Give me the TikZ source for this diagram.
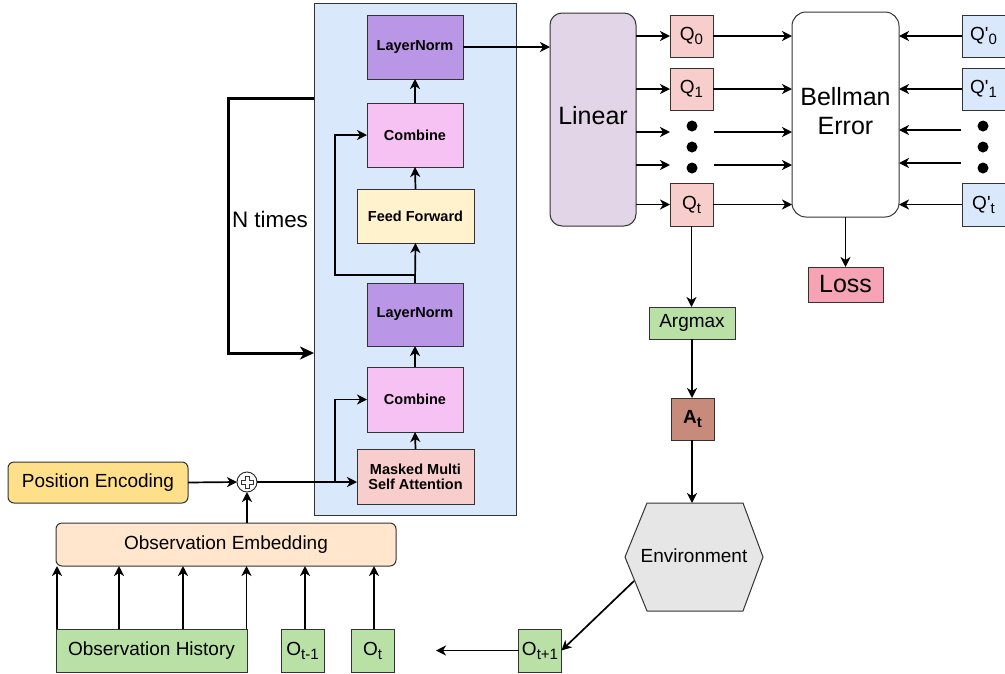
\documentclass[tikz,border=0pt]{standalone}
\usepackage{fontspec}
\setmainfont{Liberation Sans}
\usepackage{graphicx}
\usetikzlibrary{arrows.meta,calc}
\newcommand\qsub[1]{\raisebox{-4pt}{\fontsize{15}{15}\selectfont #1}}
\newcommand\qpr{\textquotesingle}
\definecolor{bd}{HTML}{333333}
\definecolor{blk}{HTML}{DAE8FC}
\definecolor{lnc}{HTML}{BA97E6}
\definecolor{cbc}{HTML}{F6C2F3}
\definecolor{ffc}{HTML}{FFF2CC}
\definecolor{mmc}{HTML}{F8CECC}
\definecolor{linc}{HTML}{E1D5E7}
\definecolor{qpc}{HTML}{DAE8FC}
\definecolor{lossc}{HTML}{F5A3B5}
\definecolor{grc}{HTML}{B9E0A5}
\definecolor{atc}{HTML}{C88A7B}
\definecolor{envc}{HTML}{E6E6E6}
\definecolor{pec}{HTML}{FFE08A}
\definecolor{embc}{HTML}{FFE6CC}
\tikzset{
  box/.style={draw=bd, line width=1pt, inner sep=0pt, outer sep=0pt, align=center},
  tb/.style={box, font=\fontsize{14.5}{17}\selectfont\bfseries},
  rb/.style={box, font=\fontsize{19}{22}\selectfont},
  arr/.style={-{Stealth[length=10pt,width=10pt,inset=3pt]}, line width=1.7pt},
  ntimes/.style={-{Stealth[length=14pt,width=13pt,inset=4pt]}, line width=3pt},
  dot/.style={circle, fill=black, minimum size=11pt, inner sep=0pt}
}
\begin{document}
\begin{tikzpicture}[x=1pt,y=-1pt]
\path[use as bounding box] (0,0) rectangle (1005,673);
% transformer block
\node[box, fill=blk, minimum width=202, minimum height=512] (blk) at (415,259) {};
\node[tb, fill=lnc, minimum width=96, minimum height=64] (ln1) at (415,47) {LayerNorm};
\node[tb, fill=cbc, minimum width=96, minimum height=64] (cb1) at (415,135) {Combine};
\node[tb, fill=ffc, minimum width=117, minimum height=54] (ff) at (415.5,216) {Feed Forward};
\node[tb, fill=lnc, minimum width=96, minimum height=63] (ln2) at (415,314.5) {LayerNorm};
\node[tb, fill=cbc, minimum width=96, minimum height=65] (cb2) at (415,399.5) {Combine};
\node[tb, fill=mmc, minimum width=117, minimum height=55] (mm) at (415.5,476.5) {Masked Multi\\[-2pt]Self Attention};
% inputs
\node[rb, fill=pec, rounded corners=6pt, minimum width=180, minimum height=41] (pe) at (98,482.5) {Position Encoding};
\node[box, circle, fill=white, minimum size=20pt] (plus) at (247,482) {};
\draw[line width=0.8pt, draw=bd] (plus) +(-2,-6) -- +(2,-6) -- +(2,-2) -- +(6,-2) -- +(6,2) -- +(2,2) -- +(2,6) -- +(-2,6) -- +(-2,2) -- +(-6,2) -- +(-6,-2) -- +(-2,-2) -- cycle;
\node[rb, fill=embc, rounded corners=6pt, minimum width=340, minimum height=43] (emb) at (226,544.5) {Observation Embedding};
\node[rb, fill=grc, minimum width=191, minimum height=43] (oh) at (151.5,650.5) {Observation History};
\node[rb, fill=grc, minimum width=43, minimum height=43] (otm1) at (302.5,650.5) {O\qsub{t-1}};
\node[rb, fill=grc, minimum width=43, minimum height=43] (ot) at (372.5,650.5) {O\qsub{t}};
\node[rb, fill=grc, minimum width=43, minimum height=43] (otp1) at (540,650.5) {O\qsub{t+1}};
\coordinate (oend) at (436,650.5);
% Q part
\node[box, fill=linc, rounded corners=12pt, minimum width=86, minimum height=213] (lin) at (593,119.5) {};
\node[font=\fontsize{25}{28}\selectfont] (lintxt) at (593,116) {Linear};
\node[rb, fill=mmc, minimum width=43, minimum height=42] (q0) at (691.5,36) {Q\qsub{0}};
\node[rb, fill=mmc, minimum width=43, minimum height=42] (q1) at (691.5,89) {Q\qsub{1}};
\node[rb, fill=mmc, minimum width=43, minimum height=43] (qt) at (691.5,204.5) {Q\qsub{t}};
\node[dot] (da) at (692,126) {};
\node[dot] (db) at (692,147) {};
\node[dot] (dc) at (692,168) {};
\node[box, fill=white, rounded corners=14pt, minimum width=107, minimum height=205] (bell) at (845.5,114.5) {};
\node[font=\fontsize{25}{29}\selectfont, align=center] (belltxt) at (845.5,111) {Bellman\\Error};
\node[rb, fill=qpc, minimum width=43, minimum height=42] (qp0) at (983.5,36) {Q\qpr\qsub{0}};
\node[rb, fill=qpc, minimum width=43, minimum height=42] (qp1) at (983.5,89) {Q\qpr\qsub{1}};
\node[rb, fill=qpc, minimum width=43, minimum height=43] (qpt) at (983.5,204.5) {Q\qpr\qsub{t}};
\node[dot] (pa) at (983,126) {};
\node[dot] (pb) at (983,147) {};
\node[dot] (pc) at (983,168) {};
\node[box, fill=lossc, minimum width=75, minimum height=35, font=\fontsize{25}{28}\selectfont] (loss) at (845.5,284.5) {Loss};
\node[rb, fill=grc, minimum width=86, minimum height=32] (argmax) at (692,323) {Argmax};
\node[box, fill=atc, minimum width=43, minimum height=42, font=\fontsize{19}{22}\selectfont\bfseries] (at) at (692.5,419) {A\qsub{\bfseries t}};
% environment
\draw[box, fill=envc] (625,557) -- (647,503) -- (743,503) -- (763,557) -- (743,611) -- (647,611) -- cycle;
\node[font=\fontsize{19}{22}\selectfont] (env) at (694,556) {Environment};
\coordinate (envtop) at (692,503);
\coordinate (envsw) at (634,581);
% transformer arrows
\draw[arr] (mm.north) -- (cb2.south);
\draw[arr] (cb2.north) -- (ln2.south);
\draw[arr] (ln2.north) -- (ff.south);
\draw[arr] (ff.north) -- (cb1.south);
\draw[arr] (cb1.north) -- (ln1.south);
\coordinate (sk1) at (335,482);
\coordinate (sk2) at (415,275);
\draw[arr] (sk1) |- (cb2.west);
\draw[arr] (sk2) -- (335,275) |- (cb1.west);
\draw[arr] (ln1.east) -- (ln1.east -| lin.west);
% N times
\coordinate (nta) at (314,98);
\coordinate (ntb) at (314,353);
\draw[ntimes] (nta) -- (228,98) |- (ntb);
\node[font=\fontsize{22.4}{26}\selectfont] (nlab) at (270,219) {N times};
% inputs arrows
\draw[arr] (pe.east) -- (plus.west);
\draw[arr] (plus.east) -- (plus.east -| mm.west);
\draw[arr] (emb.north -| plus) -- (plus.south);
\foreach \xx in {57,119,183,246.5} {
  \draw[arr] (\xx,629) -- (\xx,566);
}
\draw[arr] (otm1.north) ++(2.5,0) -- ++(0,-63);
\draw[arr] (ot.north) ++(1.5,0) -- ++(0,-63);
\draw[arr] (otp1.west) -- (oend);
\draw[arr] (envsw) -- (otp1.east);
% Q arrows
\draw[arr] (q0.west -| lin.east) -- (q0.west);
\draw[arr] (q1.west -| lin.east) -- (q1.west);
\draw[arr] (qt.west -| lin.east) -- (qt.west);
\coordinate (la) at (670,132);
\coordinate (lb) at (670,165);
\draw[arr] (la -| lin.east) -- (la);
\draw[arr] (lb -| lin.east) -- (lb);
\draw[arr] (q0.east) -- (q0.east -| bell.west);
\draw[arr] (q1.east) -- (q1.east -| bell.west);
\draw[arr] (qt.east) -- (qt.east -| bell.west);
\coordinate (ra) at (714,132);
\coordinate (rb) at (714,165);
\draw[arr] (ra) -- (ra -| bell.west);
\draw[arr] (rb) -- (rb -| bell.west);
\draw[arr] (qp0.west) -- (qp0.west -| bell.east);
\draw[arr] (qp1.west) -- (qp1.west -| bell.east);
\draw[arr] (qpt.west) -- (qpt.west -| bell.east);
\coordinate (sa) at (961,130);
\coordinate (sb) at (961,163);
\draw[arr] (sa) -- (sa -| bell.east);
\draw[arr] (sb) -- (sb -| bell.east);
\draw[arr] (bell.south) -- (loss.north);
\draw[arr] (qt.south) -- (qt.south |- argmax.north);
\draw[arr] (argmax.south) -- (argmax.south |- at.north);
\draw[arr] (at.south -| envtop) -- (envtop);
\end{tikzpicture}
\end{document}
